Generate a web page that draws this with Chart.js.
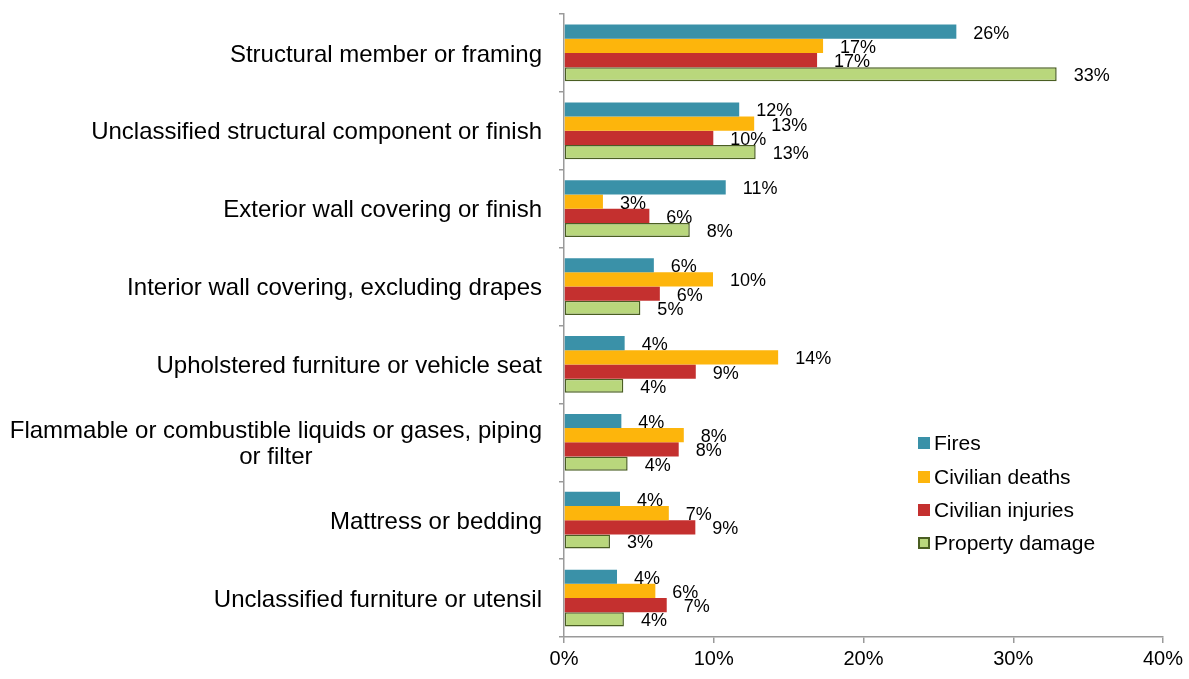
<!DOCTYPE html>
<html>
<head>
<meta charset="utf-8">
<script src="https://cdn.jsdelivr.net/npm/chart.js@4.4.1/dist/chart.umd.min.js"></script>
<style>
  html, body { margin: 0; padding: 0; background: #fff; }
  #wrap { width: 1189px; height: 679px; position: relative; }
</style>
</head>
<body>
<div id="wrap"><canvas id="c"></canvas></div>
<script>
// categories (multi-line label given as array)
const categories = [
  'Structural member or framing',
  'Unclassified structural component or finish',
  'Exterior wall covering or finish',
  'Interior wall covering, excluding drapes',
  'Upholstered furniture or vehicle seat',
  ['Flammable or combustible liquids or gases, piping', 'or filter'],
  'Mattress or bedding',
  'Unclassified furniture or utensil'
];
const seriesNames = ['Fires', 'Civilian deaths', 'Civilian injuries', 'Property damage'];
const fires    = [26.2, 11.7, 10.8, 6.0, 4.05, 3.83, 3.74, 3.54];
const deaths   = [17.3, 12.7, 2.6, 9.95, 14.3, 8.0, 7.0, 6.1];
const injuries = [16.9, 9.97, 5.7, 6.4, 8.8, 7.66, 8.77, 6.86];
const propertyDamage = [32.9, 12.8, 8.4, 5.1, 3.96, 4.25, 3.07, 4.0];
const xTicks = [0, 10, 20, 30, 40];

const FONT = '"Liberation Sans", Arial, sans-serif';
const colors = ['#3A91A8', '#FDB50C', '#C4302F', '#B9D77C'];
const borders = ['#3A91A8', '#FDB50C', '#C4302F', '#4A5E22'];

// draws category labels (right aligned, extra lines centred), data labels and legend
const decorPlugin = {
  id: 'decor',
  afterDraw(chart){
    const ctx = chart.ctx;
    const ys = chart.scales.y;
    const area = chart.chartArea;
    ctx.save();
    // category labels
    ctx.fillStyle = '#000';
    ctx.font = '24px ' + FONT;
    ctx.textBaseline = 'middle';
    ctx.textAlign = 'center';
    chart.data.labels.forEach((lab, i) => {
      const lines = Array.isArray(lab) ? lab : [lab];
      const maxW = Math.max(...lines.map(l => ctx.measureText(l).width));
      const cx = area.left - 22 - maxW / 2;
      const lh = 26;
      const y0 = ys.getPixelForValue(i) - (lines.length - 1) * lh / 2 + 2;
      lines.forEach((l, k) => ctx.fillText(l, cx, y0 + k * lh));
    });
    // data labels
    ctx.font = '18px ' + FONT;
    ctx.textAlign = 'left';
    chart.data.datasets.forEach((ds, di) => {
      const meta = chart.getDatasetMeta(di);
      meta.data.forEach((bar, i) => {
        ctx.fillText(Math.round(ds.data[i]) + '%', bar.x + 17, bar.y + 2);
      });
    });
    // legend
    ctx.font = '21px ' + FONT;
    const lx = 918, ly = [443, 477, 510, 543];
    chart.data.datasets.forEach((ds, di) => {
      ctx.fillStyle = ds.backgroundColor;
      ctx.fillRect(lx, ly[di] - 6, 12, 12);
      if (ds.borderColor !== ds.backgroundColor) {
        ctx.strokeStyle = ds.borderColor; ctx.lineWidth = 2;
        ctx.strokeRect(lx + 1, ly[di] - 5, 10, 10);
      }
      ctx.fillStyle = '#000';
      ctx.fillText(ds.label, lx + 16, ly[di] + 1);
    });
    ctx.restore();
  }
};

const seriesData = [fires, deaths, injuries, propertyDamage];
const data = {
  labels: categories,
  datasets: seriesNames.map((name, i) => ({
    label: name,
    data: seriesData[i],
    backgroundColor: colors[i],
    borderColor: borders[i],
    borderWidth: i === 3 ? 1.5 : 0,
    borderSkipped: false,
    categoryPercentage: 0.73,
    barPercentage: 1.0
  }))
};

new Chart(document.getElementById('c'), {
  type: 'bar',
  data,
  plugins: [decorPlugin],
  options: {
    indexAxis: 'y',
    responsive: true,
    maintainAspectRatio: false,
    animation: false,
    layout: { padding: { left: 559, right: 26, top: 14, bottom: 4 } },
    plugins: { legend: { display: false }, tooltip: { enabled: false } },
    scales: {
      x: {
        min: 0, max: 40,
        afterBuildTicks: s => { s.ticks = xTicks.map(v => ({ value: v })); },
        ticks: { color: '#000', font: { family: FONT, size: 20 }, padding: 4, callback: v => v + '%' },
        grid: { display: true, drawOnChartArea: false, drawTicks: true, tickLength: 6, color: '#9A9A9A', lineWidth: 1.5 },
        border: { display: true, color: '#9A9A9A', width: 1.5 }
      },
      y: {
        ticks: { display: false },
        grid: { display: true, offset: true, drawOnChartArea: false, drawTicks: true, tickLength: 5, color: '#9A9A9A', lineWidth: 1.5 },
        border: { display: true, color: '#9A9A9A', width: 1.5 }
      }
    }
  }
});
</script>
</body>
</html>
